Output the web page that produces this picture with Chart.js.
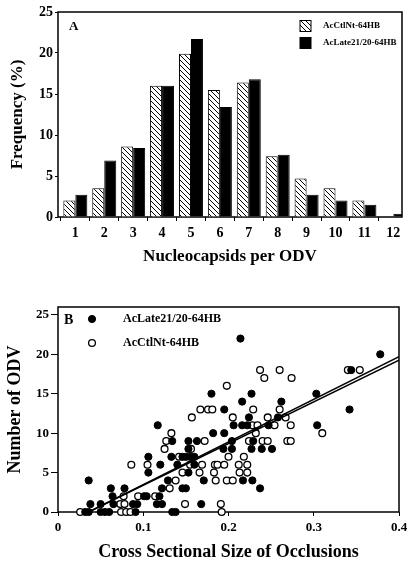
<!DOCTYPE html>
<html>
<head>
<meta charset="utf-8">
<script src="https://cdn.jsdelivr.net/npm/chart.js@4.4.0/dist/chart.umd.min.js"></script>
<style>
  body { margin: 0; background: #fff; }
  #wrapA { position: absolute; left: 0; top: 0; width: 412px; height: 270px; }
  #wrapB { position: absolute; left: 0; top: 270px; width: 412px; height: 295px; }
</style>
</head>
<body>
<div id="wrapA"><canvas id="chartA"></canvas></div>
<div id="wrapB"><canvas id="chartB"></canvas></div>
<script>
// Panel A: frequency of nucleocapsids per ODV
var nucleocapsids = [1, 2, 3, 4, 5, 6, 7, 8, 9, 10, 11, 12];
var ctlFreq = [2.0, 3.5, 8.6, 16.0, 19.9, 15.5, 16.4, 7.4, 4.7, 3.5, 2.0, 0];
var lateFreq = [2.7, 6.9, 8.4, 16.0, 21.7, 13.4, 16.8, 7.6, 2.7, 2.0, 1.5, 0.4];
var freqTicks = [0, 5, 10, 15, 20, 25];

// Panel B: [cross sectional size, number of ODV]
var latePoints = [
  [0.032, 0], [0.036, 0], [0.050, 0], [0.055, 0], [0.060, 0], [0.091, 0], [0.134, 0], [0.138, 0],
  [0.038, 1], [0.050, 1], [0.065, 1], [0.088, 1], [0.093, 1], [0.116, 1], [0.122, 1], [0.168, 1],
  [0.064, 2], [0.101, 2], [0.104, 2], [0.119, 2],
  [0.062, 3], [0.078, 3], [0.122, 3], [0.146, 3], [0.150, 3], [0.237, 3],
  [0.036, 4], [0.129, 4], [0.171, 4], [0.217, 4], [0.228, 4],
  [0.106, 5], [0.153, 5],
  [0.120, 6], [0.140, 6], [0.160, 6],
  [0.106, 7], [0.133, 7], [0.146, 7], [0.150, 7], [0.155, 7], [0.160, 7],
  [0.153, 8], [0.194, 8], [0.204, 8], [0.227, 8], [0.239, 8], [0.251, 8],
  [0.134, 9], [0.153, 9], [0.163, 9], [0.204, 9], [0.229, 9],
  [0.182, 10], [0.195, 10],
  [0.117, 11], [0.206, 11], [0.216, 11], [0.222, 11], [0.247, 11], [0.304, 11],
  [0.224, 12], [0.258, 12],
  [0.195, 13], [0.342, 13],
  [0.216, 14], [0.262, 14],
  [0.180, 15], [0.227, 15], [0.303, 15],
  [0.344, 18], [0.378, 20], [0.214, 22]
];
var ctlPoints = [
  [0.026, 0], [0.074, 0], [0.080, 0], [0.085, 0], [0.192, 0],
  [0.073, 1], [0.078, 1], [0.149, 1], [0.191, 1],
  [0.077, 2], [0.094, 2], [0.114, 2],
  [0.131, 3],
  [0.138, 4], [0.185, 4], [0.198, 4], [0.205, 4],
  [0.146, 5], [0.166, 5], [0.183, 5], [0.213, 5], [0.222, 5],
  [0.086, 6], [0.105, 6], [0.155, 6], [0.169, 6], [0.184, 6], [0.187, 6], [0.195, 6], [0.212, 6], [0.222, 6],
  [0.142, 7], [0.200, 7], [0.218, 7],
  [0.125, 8], [0.156, 8],
  [0.127, 9], [0.172, 9], [0.224, 9], [0.240, 9], [0.246, 9], [0.269, 9], [0.273, 9],
  [0.133, 10], [0.232, 10], [0.310, 10],
  [0.228, 11], [0.234, 11], [0.254, 11], [0.273, 11],
  [0.157, 12], [0.205, 12], [0.246, 12], [0.267, 12],
  [0.167, 13], [0.176, 13], [0.181, 13], [0.229, 13], [0.260, 13],
  [0.198, 16], [0.242, 17], [0.274, 17],
  [0.237, 18], [0.260, 18], [0.340, 18], [0.354, 18]
];
// regression lines (end points)
var fitSize = [0.036, 0.4];
var fitLate = [0, 19.7];
var fitCtl = [0, 19.25];
var sizeTicks = [0, 0.1, 0.2, 0.3, 0.4];
var odvTicks = [0, 5, 10, 15, 20, 25];

Chart.defaults.font.family = "'Liberation Serif', 'Times New Roman', serif";
Chart.defaults.font.weight = "bold";
Chart.defaults.color = "#000";

// diagonal hatch for the AcCtlNt bars
function makeHatch() {
  var s = 5;
  var c = document.createElement("canvas");
  c.width = s; c.height = s;
  var g = c.getContext("2d");
  g.fillStyle = "#fff";
  g.fillRect(0, 0, s, s);
  g.strokeStyle = "#000";
  g.lineWidth = 1;
  g.beginPath();
  g.moveTo(-1, -1); g.lineTo(s + 1, s + 1);
  g.moveTo(-1, s - 1); g.lineTo(1, s + 1);
  g.moveTo(s - 1, -1); g.lineTo(s + 1, 1);
  g.stroke();
  return g.createPattern(c, "repeat");
}
var hatch = makeHatch();

// box round the plot area
var framePlugin = {
  id: "frame",
  beforeDatasetsDraw: function (chart) {
    var a = chart.chartArea, ctx = chart.ctx;
    ctx.save();
    ctx.strokeStyle = "#000";
    ctx.lineWidth = 1.5;
    ctx.strokeRect(a.left, a.top, a.right - a.left, a.bottom - a.top);
    ctx.restore();
  }
};

// panel letter and legend drawn inside the plot
var insideLegend = {
  id: "insideLegend",
  afterDraw: function (chart, args, opts) {
    var ctx = chart.ctx;
    ctx.save();
    ctx.fillStyle = "#000";
    ctx.textBaseline = "middle";
    ctx.textAlign = "left";
    ctx.font = "bold " + opts.letterSize + "px 'Liberation Serif'";
    ctx.fillText(opts.letter, opts.letterX, opts.letterY);
    ctx.font = "bold " + opts.textSize + "px 'Liberation Serif'";
    for (var i = 0; i < 2; i++) {
      var ds = chart.data.datasets[i];
      var y = opts.y + i * opts.gap;
      if (opts.kind === "box") {
        ctx.fillStyle = ds.backgroundColor;
        ctx.fillRect(opts.markX, y - 5.5, 11, 11);
        ctx.strokeStyle = "#000";
        ctx.lineWidth = 1;
        ctx.strokeRect(opts.markX, y - 5.5, 11, 11);
      } else {
        ctx.beginPath();
        ctx.arc(opts.markX, y, ds.pointRadius, 0, Math.PI * 2);
        ctx.fillStyle = ds.backgroundColor;
        ctx.fill();
        ctx.strokeStyle = "#000";
        ctx.lineWidth = ds.borderWidth;
        ctx.stroke();
      }
      ctx.fillStyle = "#000";
      ctx.fillText(ds.label, opts.textX, y);
    }
    ctx.restore();
  }
};

// Panel A
var ctxA = document.getElementById("chartA").getContext("2d");
var chartA = new Chart(ctxA, {
  type: "bar",
  data: {
    datasets: [
      {
        label: "AcCtlNt-64HB",
        data: nucleocapsids.map(function (n, i) { return { x: n, y: ctlFreq[i] }; }),
        backgroundColor: hatch,
        borderColor: "#000",
        borderWidth: 1
      },
      {
        label: "AcLate21/20-64HB",
        data: nucleocapsids.map(function (n, i) { return { x: n, y: lateFreq[i] }; }),
        backgroundColor: "#000",
        borderColor: "#000",
        borderWidth: 1
      }
    ]
  },
  options: {
    responsive: true,
    maintainAspectRatio: false,
    animation: false,
    layout: { padding: { top: 12, right: 10, left: 0, bottom: 0 } },
    datasets: { bar: { categoryPercentage: 0.83, barPercentage: 1 } },
    plugins: {
      legend: { display: false },
      tooltip: { enabled: false },
      insideLegend: {
        kind: "box", letter: "A", letterX: 69, letterY: 27, letterSize: 13,
        markX: 300, textX: 323, y: 26, gap: 17, textSize: 9
      }
    },
    scales: {
      x: {
        type: "linear",
        offset: false,
        min: 0.4,
        max: 12.3,
        afterBuildTicks: function (s) { s.ticks = nucleocapsids.map(function (v) { return { value: v }; }); },
        afterFit: function (s) { s.height = 53; },
        grid: { drawOnChartArea: false, color: "#000", tickLength: 4 },
        border: { display: false },
        ticks: { padding: 4, autoSkip: false, maxRotation: 0, font: { size: 14 } },
        title: { display: true, text: "Nucleocapsids per ODV", font: { size: 17 }, padding: { top: 0, bottom: 3 } }
      },
      y: {
        min: 0,
        max: 25,
        afterBuildTicks: function (s) { s.ticks = freqTicks.map(function (v) { return { value: v }; }); },
        afterFit: function (s) { s.width = 58; },
        grid: { drawOnChartArea: false, color: "#000", tickLength: 3 },
        border: { display: false },
        ticks: { padding: 2, font: { size: 14 } },
        title: { display: true, text: "Frequency (%)", font: { size: 17 }, padding: { top: 7, bottom: 0 } }
      }
    }
  },
  plugins: [framePlugin, insideLegend]
});

// Panel B
var ctxB = document.getElementById("chartB").getContext("2d");
var chartB = new Chart(ctxB, {
  type: "scatter",
  data: {
    datasets: [
      {
        label: "AcLate21/20-64HB",
        data: latePoints.map(function (p) { return { x: p[0], y: p[1] }; }),
        pointRadius: 3.6,
        backgroundColor: "#000",
        borderColor: "#000",
        borderWidth: 1,
        order: 1,
        clip: false
      },
      {
        label: "AcCtlNt-64HB",
        data: ctlPoints.map(function (p) { return { x: p[0], y: p[1] }; }),
        pointRadius: 3.4,
        backgroundColor: "#fff",
        borderColor: "#000",
        borderWidth: 1.3,
        order: 2,
        clip: false
      },
      {
        type: "line",
        label: "fit late",
        data: fitSize.map(function (x, i) { return { x: x, y: fitLate[i] }; }),
        borderColor: "#000",
        borderWidth: 1.5,
        pointRadius: 0,
        fill: false,
        order: 0
      },
      {
        type: "line",
        label: "fit ctl",
        data: fitSize.map(function (x, i) { return { x: x, y: fitCtl[i] }; }),
        borderColor: "#000",
        borderWidth: 1.5,
        pointRadius: 0,
        fill: false,
        order: 0
      }
    ]
  },
  options: {
    responsive: true,
    maintainAspectRatio: false,
    animation: false,
    layout: { padding: { top: 37, right: 13, left: 0, bottom: 0 } },
    plugins: {
      legend: { display: false },
      tooltip: { enabled: false },
      insideLegend: {
        kind: "dot", letter: "B", letterX: 64, letterY: 50, letterSize: 14,
        markX: 92, textX: 123, y: 49, gap: 24, textSize: 12
      }
    },
    scales: {
      x: {
        type: "linear",
        min: 0,
        max: 0.4,
        afterBuildTicks: function (s) { s.ticks = sizeTicks.map(function (v) { return { value: v }; }); },
        afterFit: function (s) { s.height = 53; },
        grid: { drawOnChartArea: false, color: "#000", tickLength: 4 },
        border: { display: false },
        ticks: { padding: 4, maxRotation: 0, font: { size: 13 } },
        title: { display: true, text: "Cross Sectional Size of Occlusions", font: { size: 18 }, padding: { top: 0, bottom: 2 } }
      },
      y: {
        min: 0,
        max: 26,
        afterBuildTicks: function (s) { s.ticks = odvTicks.map(function (v) { return { value: v }; }); },
        afterFit: function (s) { s.width = 58; },
        grid: { drawOnChartArea: false, color: "#000", tickLength: 7 },
        border: { display: false },
        ticks: { padding: 2, font: { size: 13 } },
        title: { display: true, text: "Number of ODV", font: { size: 18 }, padding: { top: 5, bottom: 0 } }
      }
    }
  },
  plugins: [framePlugin, insideLegend]
});
</script>
</body>
</html>
